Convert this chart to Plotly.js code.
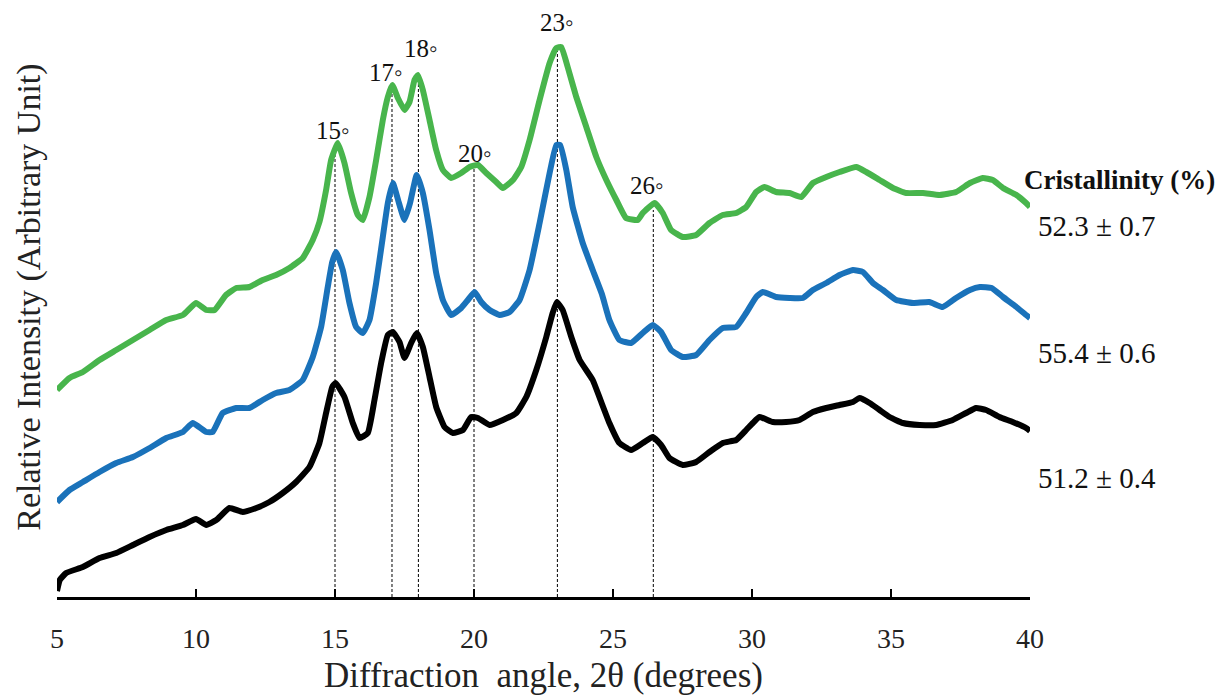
<!DOCTYPE html>
<html>
<head>
<meta charset="utf-8">
<script src="https://cdn.plot.ly/plotly-3.0.1.min.js"></script>
<style>html,body{margin:0;padding:0;background:#fff;}#chart{width:1216px;height:695px;}</style>
</head>
<body>
<div id="chart"></div>
<script>
// Diffraction angle (2θ, degrees) and relative intensity (arbitrary, offset curves)
const blackX = [5.0,5.1,5.33,5.93,6.53,7.13,7.73,8.33,8.93,9.53,10.0,10.37,10.73,11.2,11.68,12.17,12.64,13.12,13.6,14.08,14.44,14.68,14.9,15.02,15.34,15.64,15.88,16.18,16.42,16.66,16.9,17.08,17.32,17.5,17.74,17.94,18.16,18.4,18.64,18.94,19.24,19.6,19.9,20.14,20.56,21.04,21.52,21.88,22.24,22.6,22.83,22.98,23.19,23.5,23.8,24.27,24.55,24.87,25.23,25.65,26.07,26.43,26.73,27.03,27.51,27.99,28.47,28.95,29.43,29.79,30.03,30.27,30.75,31.23,31.71,32.19,32.67,33.15,33.63,33.87,34.23,34.59,34.95,35.43,36.03,36.63,37.22,37.7,38.06,38.42,38.9,39.38,39.86,40.0];
const blackY = [6,17,24,30,39,44,52,60,67,72,78,72,77,89,85,89,95,104,115,130,154,184,210,214,200,174,159,164,197,234,262,265,255,239,254,264,250,220,190,170,164,167,180,179,172,177,184,200,227,260,284,295,287,260,237,217,197,174,154,147,154,160,152,139,132,135,145,154,157,167,174,180,175,175,177,185,189,192,195,199,194,187,180,174,172,172,177,184,189,187,180,175,169,166];

const blueX = [5.0,5.45,5.93,6.53,7.13,7.73,8.33,8.93,9.53,9.88,10.37,10.6,10.96,11.45,11.92,12.4,12.88,13.36,13.84,14.2,14.5,14.74,14.9,15.04,15.28,15.52,15.76,16.0,16.24,16.48,16.72,16.9,17.08,17.3,17.5,17.7,17.94,18.16,18.4,18.64,18.88,19.18,19.54,19.78,20.02,20.26,20.56,20.92,21.28,21.64,22.0,22.36,22.72,22.96,23.1,23.32,23.55,23.91,24.27,24.6,24.87,25.23,25.65,26.07,26.43,26.73,27.09,27.51,27.99,28.47,28.95,29.43,29.79,30.15,30.39,30.87,31.35,31.83,32.19,32.67,33.15,33.63,33.99,34.35,34.71,35.19,35.79,36.38,36.86,37.34,37.84,38.2,38.62,39.03,39.51,39.86,40.0];
const blueY = [95,107,115,125,134,140,149,159,165,174,165,165,184,189,189,197,204,207,217,240,270,310,335,345,327,294,270,264,277,314,360,394,414,394,377,394,422,404,367,324,297,282,289,297,305,295,287,282,285,297,327,374,424,452,452,427,390,354,327,303,277,257,254,264,272,265,247,240,242,257,269,270,284,300,305,300,299,299,307,314,322,327,325,314,307,297,294,295,290,299,307,310,309,300,290,282,279];

const greenX = [5.0,5.45,5.93,6.53,7.13,7.73,8.33,8.93,9.53,10.0,10.37,10.67,11.08,11.45,11.92,12.4,12.88,13.36,13.84,14.2,14.44,14.68,14.86,15.1,15.34,15.58,15.82,16.0,16.24,16.48,16.72,16.9,17.06,17.26,17.5,17.68,17.86,17.98,18.16,18.4,18.64,18.88,19.18,19.54,19.84,20.14,20.44,20.8,21.04,21.4,21.7,22.0,22.36,22.72,22.96,23.14,23.37,23.68,24.04,24.4,24.76,25.12,25.47,25.89,26.07,26.5,26.79,27.09,27.51,27.99,28.47,28.95,29.43,29.79,30.15,30.45,30.87,31.35,31.77,32.19,32.67,33.15,33.75,34.11,34.59,35.07,35.55,36.15,36.75,37.34,37.84,38.3,38.66,39.03,39.51,39.86,40.0];
const greenY = [207,219,225,237,247,257,267,277,282,294,287,287,302,309,310,317,322,329,339,357,375,407,437,454,434,404,382,377,400,437,477,500,512,499,487,495,517,522,507,477,447,427,419,424,430,432,424,415,409,417,430,457,497,534,549,550,530,500,470,440,417,397,379,377,384,394,384,367,360,362,374,382,384,390,405,410,405,404,400,414,420,425,430,425,417,409,404,404,402,405,414,419,417,409,402,394,390];

// Marked reflections (dashed guide lines from baseline up to the top pattern)
const peakAngles = [15, 17.05, 18, 20, 23, 26.45];
const peakTops = [451, 512, 519, 430, 549, 387];
const peakLabels = ["15◦", "17◦", "18◦", "20◦", "23◦", "26◦"];

const crystHeader = "Cristallinity (%)";
const crystValues = ["52.3 ± 0.7", "55.4 ± 0.6", "51.2 ± 0.4"];

const serif = "Liberation Serif, 'Times New Roman', serif";

const traces = [];
peakAngles.forEach((a, i) => {
  traces.push({x: [a, a], y: [0, peakTops[i]], mode: 'lines', type: 'scatter',
    line: {color: '#000', width: 1, dash: '3px,2px'}, hoverinfo: 'skip', showlegend: false});
});
const curveLine = (c) => ({color: c, width: 6, shape: 'spline', smoothing: 0.4});
traces.push({x: blackX, y: blackY, mode: 'lines', type: 'scatter', line: curveLine('#000000'), showlegend: false});
traces.push({x: blueX, y: blueY, mode: 'lines', type: 'scatter', line: curveLine('#1a72ba'), showlegend: false});
traces.push({x: greenX, y: greenY, mode: 'lines', type: 'scatter', line: curveLine('#48b54c'), showlegend: false});

const labelPos = [[14.93, 467], [16.82, 525], [18.11, 549], [20.02, 444], [22.97, 575], [26.24, 412]];
const annotations = peakLabels.map((t, i) => ({
  x: labelPos[i][0], y: labelPos[i][1], xref: 'x', yref: 'y', text: t, showarrow: false,
  font: {family: serif, size: 25, color: '#111'}, xanchor: 'center', yanchor: 'middle'
}));
annotations.push({xref: 'paper', yref: 'y', x: 0.992, y: 417, text: '<b>' + crystHeader + '</b>', showarrow: false,
  xanchor: 'left', yanchor: 'middle', font: {family: serif, size: 27, color: '#111'}});
const crystY = [371, 244, 119];
crystValues.forEach((t, i) => annotations.push({xref: 'paper', yref: 'y', x: 1.006, y: crystY[i], text: t, showarrow: false,
  xanchor: 'left', yanchor: 'middle', font: {family: serif, size: 29, color: '#111'}}));
annotations.push({xref: 'paper', yref: 'paper', x: -0.029, y: 0.52, text: 'Relative Intensity (Arbitrary Unit)', textangle: -90,
  showarrow: false, xanchor: 'center', yanchor: 'middle', font: {family: serif, size: 34, color: '#222'}});

const layout = {
  width: 1216, height: 695,
  margin: {l: 57, r: 186, t: 20, b: 98},
  paper_bgcolor: '#fff', plot_bgcolor: '#fff',
  showlegend: false,
  xaxis: {
    range: [5, 40], tickvals: [5, 10, 15, 20, 25, 30, 35, 40],
    showline: true, linecolor: '#000', linewidth: 2.5, mirror: false,
    ticks: 'inside', ticklen: 8, tickwidth: 2.5, tickcolor: '#000',
    showgrid: false, zeroline: false, ticklabelstandoff: 15,
    tickfont: {family: serif, size: 28, color: '#222'},
    title: {text: 'Diffraction  angle, 2θ (degrees)', font: {family: serif, size: 35, color: '#222'}, standoff: 12}
  },
  yaxis: {range: [0, 577], visible: false, showgrid: false, zeroline: false},
  annotations: annotations
};
Plotly.newPlot('chart', traces, layout, {displayModeBar: false, staticPlot: true});
</script>
</body>
</html>
